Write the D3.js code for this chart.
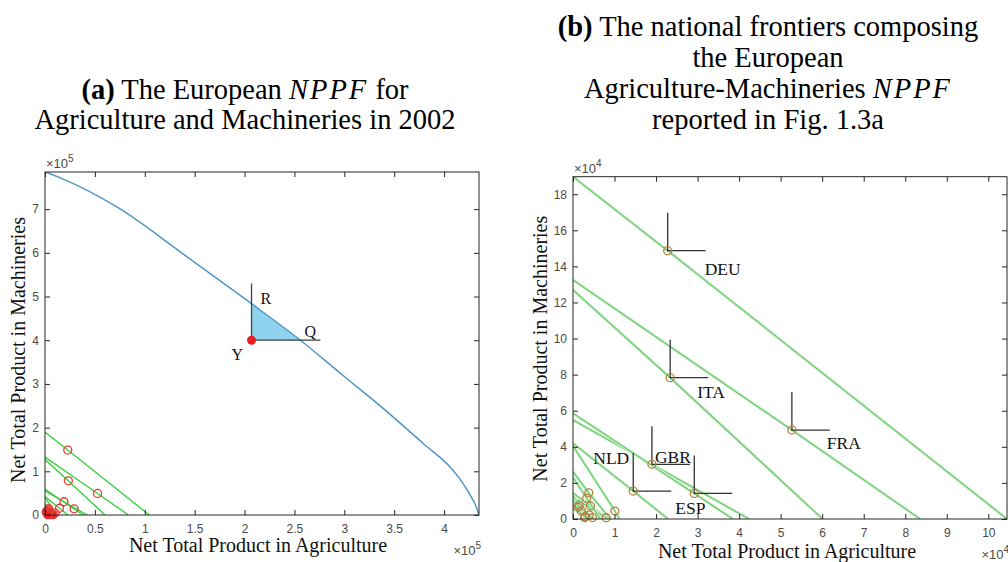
<!DOCTYPE html>
<html>
<head>
<meta charset="utf-8">
<script src="https://cdn.jsdelivr.net/npm/d3@7"></script>
<style>
    body { margin: 0; background: #fff; }
    .axis text { font-family: "Liberation Sans", Arial, sans-serif; font-size: 12px; fill: #4a4a4a; }
    .axis line { stroke: #262626; }
    .caption { font-family: "Liberation Serif", "Times New Roman", serif; font-size: 28.5px; fill: #000; }
    .alabel { font-family: "Liberation Serif", "Times New Roman", serif; font-size: 20px; fill: #111; }
    .clabel { font-family: "Liberation Serif", "Times New Roman", serif; font-size: 17.5px; fill: #111; }
    .exp { font-family: "Liberation Sans", Arial, sans-serif; font-size: 13px; fill: #4a4a4a; }
</style>
</head>
<body>
<svg id="fig" width="1008" height="562"></svg>
<script>
// European NPPF (panel a)
const euroAgr  = [0, 16000, 72000, 140000, 205000, 256000, 300000, 343000, 380000, 406000, 416000, 425000, 432000, 435000];
const euroMach = [785000, 771000, 705000, 595000, 487000, 400000, 317000, 236000, 162000, 110000, 82000, 50000, 20000, 0];

// point Y and reach of its R / Q guide lines
const pointY = {agr: 207000, mach: 400000};
const guideReach = {agr: 276000, mach: 530000};

// national data (panel b), empty code = unlabelled country
const countryCodes    = ['DEU', 'FRA', 'ITA', 'GBR', 'ESP', 'NLD', '', '', '', '', '', '', '', '', '', '', '', ''];
const countryAgr      = [22800, 52700, 23400, 19000, 29200, 14500, 10100, 3800, 4200, 8000, 3300, 1500, 1200, 2000, 2800, 4700, 3900, 2900];
const countryMach     = [148700, 49300, 78300, 30300, 14200, 15500, 4400, 14500, 7200, 700, 11500, 7500, 6500, 4500, 800, 800, 2200, 1300];
const frontierAgrMax  = [104500, 83600, 60100, 42400, 38500, 22900, 11200, 9000, 8500, 8600, 6600, 3550, 3000, 4000, 3200, 5200, 5000, 4000];
const frontierMachMax = [189700, 132500, 126900, 54900, 58600, 42000, 40500, 26200, 14400, 12000, 23000, 13000, 11000, 9000, 6000, 8000, 10000, 7000];

// tick labels
const xTicksA = ['0', '0.5', '1', '1.5', '2', '2.5', '3', '3.5', '4'];
const yTicksA = ['0', '1', '2', '3', '4', '5', '6', '7'];
const xTicksB = ['0', '1', '2', '3', '4', '5', '6', '7', '8', '9', '10'];
const yTicksB = ['0', '2', '4', '6', '8', '10', '12', '14', '16', '18'];

// label placement in pixels, relative to each country point
const labelOffsets = {
    DEU: {dx: 37, dy: 24, anchor: 'start'},
    FRA: {dx: 35, dy: 19, anchor: 'start'},
    ITA: {dx: 27, dy: 20, anchor: 'start'},
    GBR: {dx: 3, dy: -1, anchor: 'start'},
    ESP: {dx: -19, dy: 21, anchor: 'start'},
    NLD: {dx: -4, dy: -27, anchor: 'end'}
};

const svg = d3.select('#fig');

class FrontierPanel {
    constructor(_config) {
        this.config = {
            id: _config.id,
            left: _config.left,
            top: _config.top,
            width: _config.width,
            height: _config.height,
            xMax: _config.xMax,
            yMax: _config.yMax,
            xTicks: _config.xTicks,
            yTicks: _config.yTicks,
            xUnit: _config.xUnit,
            yUnit: _config.yUnit,
            power: _config.power,
            xLabelX: _config.xLabelX,
            xLabelY: _config.xLabelY,
            yLabelX: _config.yLabelX,
            yLabelMid: _config.yLabelMid
        }
        this.initVis();
    }

    initVis() {
        let vis = this;
        const c = vis.config;

        vis.xScale = d3.scaleLinear().domain([0, c.xMax]).range([0, c.width]);
        vis.yScale = d3.scaleLinear().domain([0, c.yMax]).range([c.height, 0]);

        vis.g = svg.append('g').attr('transform', `translate(${c.left},${c.top})`);

        svg.append('clipPath').attr('id', 'clip-' + c.id)
            .append('rect').attr('width', c.width).attr('height', c.height);

        // lines are clipped, markers are not (as in matlab)
        vis.lineLayer = vis.g.append('g').attr('clip-path', `url(#clip-${c.id})`);
        vis.markLayer = vis.g.append('g');

        const xVals = c.xTicks.map(t => +t * c.xUnit);
        const yVals = c.yTicks.map(t => +t * c.yUnit);

        vis.g.append('g').attr('class', 'axis')
            .attr('transform', `translate(0,${c.height})`)
            .call(d3.axisBottom(vis.xScale).tickValues(xVals).tickFormat((d, i) => c.xTicks[i])
                .tickSizeInner(-5).tickSizeOuter(0).tickPadding(9));
        vis.g.append('g').attr('class', 'axis')
            .call(d3.axisTop(vis.xScale).tickValues(xVals).tickFormat('')
                .tickSizeInner(-5).tickSizeOuter(0));
        vis.g.append('g').attr('class', 'axis')
            .call(d3.axisLeft(vis.yScale).tickValues(yVals).tickFormat((d, i) => c.yTicks[i])
                .tickSizeInner(-5).tickSizeOuter(0).tickPadding(6));
        vis.g.append('g').attr('class', 'axis')
            .attr('transform', `translate(${c.width},0)`)
            .call(d3.axisRight(vis.yScale).tickValues(yVals).tickFormat('')
                .tickSizeInner(-5).tickSizeOuter(0));
        vis.g.selectAll('.axis .domain').remove();

        // box
        vis.g.append('rect')
            .attr('width', c.width).attr('height', c.height)
            .attr('fill', 'none').attr('stroke', '#262626').attr('stroke-width', 1);

        // exponent labels
        vis.exponent(1, -4, 'start');
        vis.exponent(c.width + 2, c.height + 40, 'end');

        // axis titles
        vis.g.append('text').attr('class', 'alabel')
            .attr('x', c.xLabelX).attr('y', c.xLabelY)
            .attr('text-anchor', 'middle')
            .text('Net Total Product in Agriculture');
        vis.g.append('text').attr('class', 'alabel')
            .attr('transform', `translate(${c.yLabelX},${c.yLabelMid}) rotate(-90)`)
            .attr('text-anchor', 'middle')
            .text('Net Total Product in Machineries');
    }

    exponent(x, y, anchor) {
        let vis = this;
        const t = vis.g.append('text').attr('class', 'exp')
            .attr('x', x).attr('y', y).attr('text-anchor', anchor);
        t.append('tspan').text('\u00d710');
        t.append('tspan').attr('dy', -6).attr('font-size', '10px').text(vis.config.power);
    }

    frontierPath(i) {
        let vis = this;
        return d3.line()
            .x(d => vis.xScale(d[0]))
            .y(d => vis.yScale(d[1]))([
                [0, frontierMachMax[i]],
                [countryAgr[i], countryMach[i]],
                [frontierAgrMax[i], 0]
            ]);
    }
}

// value of the European frontier at a given agriculture level, and vice versa
function frontierMachAt(a) {
    for (let i = 1; i < euroAgr.length; i++) {
        if (a <= euroAgr[i]) {
            const t = (a - euroAgr[i - 1]) / (euroAgr[i] - euroAgr[i - 1]);
            return euroMach[i - 1] + t * (euroMach[i] - euroMach[i - 1]);
        }
    }
    return 0;
}
function frontierAgrAt(m) {
    for (let i = 1; i < euroMach.length; i++) {
        if (m >= euroMach[i]) {
            const t = (euroMach[i - 1] - m) / (euroMach[i - 1] - euroMach[i]);
            return euroAgr[i - 1] + t * (euroAgr[i] - euroAgr[i - 1]);
        }
    }
    return euroAgr[euroAgr.length - 1];
}

// ---------- panel (a)
const panelA = new FrontierPanel({
    id: 'a', left: 45, top: 172, width: 434, height: 343,
    xMax: 435000, yMax: 785000,
    xTicks: xTicksA, yTicks: yTicksA, xUnit: 1e5, yUnit: 1e5, power: '5',
    xLabelX: 213, xLabelY: 380, yLabelX: -20, yLabelMid: 178
});

countryCodes.forEach((code, i) => {
    panelA.lineLayer.append('path')
        .attr('d', panelA.frontierPath(i))
        .attr('fill', 'none').attr('stroke', '#3ccf3c').attr('stroke-width', 1.4);
});

const rMach = frontierMachAt(pointY.agr);
const qAgr = frontierAgrAt(pointY.mach);
panelA.lineLayer.append('path')
    .attr('d', d3.line().x(d => panelA.xScale(d[0])).y(d => panelA.yScale(d[1]))(
        [[pointY.agr, pointY.mach], [pointY.agr, rMach], [qAgr, pointY.mach]]))
    .attr('fill', '#8fd3ee').attr('stroke', 'none');

panelA.lineLayer.append('path')
    .attr('d', d3.line().curve(d3.curveMonotoneX)
        .x((d, i) => panelA.xScale(euroAgr[i])).y((d, i) => panelA.yScale(euroMach[i]))(euroAgr))
    .attr('fill', 'none').attr('stroke', '#4d97c6').attr('stroke-width', 1.5);

const yx = panelA.xScale(pointY.agr), yy = panelA.yScale(pointY.mach);
panelA.markLayer.append('line')
    .attr('x1', yx).attr('y1', yy).attr('x2', yx).attr('y2', panelA.yScale(guideReach.mach))
    .attr('stroke', '#404040').attr('stroke-width', 1.3);
panelA.markLayer.append('line')
    .attr('x1', yx).attr('y1', yy).attr('x2', panelA.xScale(guideReach.agr)).attr('y2', yy)
    .attr('stroke', '#404040').attr('stroke-width', 1.3);

// tiny countries pile up into a solid red blob at the origin
panelA.markLayer.selectAll('.cA').data(countryAgr).join('circle')
    .attr('class', 'cA')
    .attr('cx', d => panelA.xScale(d))
    .attr('cy', (d, i) => panelA.yScale(countryMach[i]))
    .attr('r', 4)
    .attr('fill', (d, i) => (d < 10000 && countryMach[i] < 10000) ? '#f01c1c' : 'none')
    .attr('stroke', '#e23b35').attr('stroke-width', 1.3);

panelA.markLayer.append('circle')
    .attr('cx', yx).attr('cy', yy).attr('r', 4.5).attr('fill', '#ee1c1c');

panelA.markLayer.append('text').attr('class', 'clabel').style('font-size', '16px')
    .attr('x', yx + 9).attr('y', panelA.yScale(rMach)).text('R');
panelA.markLayer.append('text').attr('class', 'clabel').style('font-size', '16px')
    .attr('x', panelA.xScale(qAgr) + 4).attr('y', yy - 3).text('Q');
panelA.markLayer.append('text').attr('class', 'clabel').style('font-size', '16px')
    .attr('x', yx - 20).attr('y', yy + 20).text('Y');

// ---------- panel (b)
const panelB = new FrontierPanel({
    id: 'b', left: 573, top: 176.7, width: 434, height: 342.3,
    xMax: 104500, yMax: 189700,
    xTicks: xTicksB, yTicks: yTicksB, xUnit: 1e4, yUnit: 1e4, power: '4',
    xLabelX: 214, xLabelY: 381, yLabelX: -26, yLabelMid: 172
});

countryCodes.forEach((code, i) => {
    panelB.lineLayer.append('path')
        .attr('d', panelB.frontierPath(i))
        .attr('fill', 'none').attr('stroke', '#d6f2d6').attr('stroke-width', 3.2);
    panelB.lineLayer.append('path')
        .attr('d', panelB.frontierPath(i))
        .attr('fill', 'none').attr('stroke', '#66c866').attr('stroke-width', 1.2);
});

countryCodes.forEach((code, i) => {
    if (!code) return;
    const px = panelB.xScale(countryAgr[i]), py = panelB.yScale(countryMach[i]);
    const off = labelOffsets[code];
    panelB.markLayer.append('path')
        .attr('d', `M${px},${py - 38}V${py}H${px + 38}`)
        .attr('fill', 'none').attr('stroke', '#333').attr('stroke-width', 1.3);
    panelB.markLayer.append('text').attr('class', 'clabel')
        .attr('x', px + off.dx).attr('y', py + off.dy)
        .attr('text-anchor', off.anchor)
        .text(code);
});

panelB.markLayer.selectAll('.cB').data(countryAgr).join('circle')
    .attr('class', 'cB')
    .attr('cx', d => panelB.xScale(d))
    .attr('cy', (d, i) => panelB.yScale(countryMach[i]))
    .attr('r', 4)
    .attr('fill', 'none').attr('stroke', '#b5803e').attr('stroke-width', 1.3);

// ---------- captions
const capA = svg.append('text').attr('class', 'caption').attr('text-anchor', 'middle');
const a1 = capA.append('tspan').attr('x', 245).attr('y', 99);
a1.append('tspan').attr('font-weight', 'bold').text('(a)');
a1.append('tspan').text(' The European ');
a1.append('tspan').attr('font-style', 'italic').attr('letter-spacing', 2).text('NPPF');
a1.append('tspan').text(' for');
capA.append('tspan').attr('x', 245).attr('y', 129).text('Agriculture and Machineries in 2002');

const capB = svg.append('text').attr('class', 'caption').attr('text-anchor', 'middle');
const b1 = capB.append('tspan').attr('x', 768).attr('y', 36);
b1.append('tspan').attr('font-weight', 'bold').text('(b)');
b1.append('tspan').text(' The national frontiers composing');
capB.append('tspan').attr('x', 768).attr('y', 67).text('the European');
const b3 = capB.append('tspan').attr('x', 768).attr('y', 98);
b3.append('tspan').text('Agriculture-Machineries ');
b3.append('tspan').attr('font-style', 'italic').attr('letter-spacing', 2).text('NPPF');
capB.append('tspan').attr('x', 768).attr('y', 129).text('reported in Fig. 1.3a');
</script>
</body>
</html>
